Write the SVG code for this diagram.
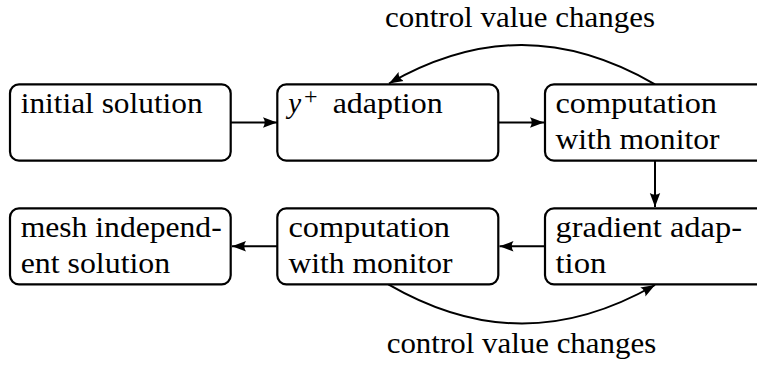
<svg xmlns="http://www.w3.org/2000/svg" width="757" height="365" viewBox="0 0 757 365">
<style>
.box{fill:#fff;stroke:#000;stroke-width:2.2}
.t{font-size:29px;fill:#000}
.c{fill:none;stroke:#000;stroke-width:2}
</style>
<defs>
<marker id="ah" markerUnits="userSpaceOnUse" markerWidth="15" markerHeight="12" refX="14" refY="6" orient="auto">
<path d="M0,0.8 Q3.5,6 0,11.2 L14,6 Z" fill="#000"/>
</marker>
</defs>
<rect width="757" height="365" fill="#fff"/>
<g font-family="'Liberation Serif', 'DejaVu Serif', serif">
<g id="connectors">
<path class="c" d="M231,122.5 H277" marker-end="url(#ah)"/>
<path class="c" d="M498.5,122.5 H544" marker-end="url(#ah)"/>
<path class="c" d="M655,160.7 V207" marker-end="url(#ah)"/>
<path class="c" d="M545,246.3 H499.5" marker-end="url(#ah)"/>
<path class="c" d="M277.3,246.3 H232" marker-end="url(#ah)"/>
<path class="c" d="M655,84.3 C564.6,32.1 478.7,32.1 389,83.5" marker-end="url(#ah)"/>
<path class="c" d="M388.3,284.3 C478.7,336.5 564.6,336.5 655,285" marker-end="url(#ah)"/>
<text class="t" x="385" y="26.7" textLength="270" lengthAdjust="spacingAndGlyphs">control value changes</text>
<text class="t" x="386.7" y="353.3" textLength="269.5" lengthAdjust="spacingAndGlyphs">control value changes</text>
</g>
<g id="n1">
<rect class="box" x="10" y="84.3" width="220.7" height="76.4" rx="9"/>
<text class="t" x="20.7" y="112.7" textLength="182" lengthAdjust="spacingAndGlyphs">initial solution</text>
</g>
<g id="n2">
<rect class="box" x="277.3" y="84.3" width="221" height="76.4" rx="9"/>
<text class="t" y="112.7"><tspan x="288.3" font-style="italic">y</tspan><tspan x="304" y="104" font-size="24">+</tspan><tspan x="332.7" y="112.7" textLength="110" lengthAdjust="spacingAndGlyphs">adaption</tspan></text>
</g>
<g id="n3">
<rect class="box" x="545" y="84.3" width="221" height="76.4" rx="9"/>
<text class="t" x="555.5" y="113" textLength="161.5" lengthAdjust="spacingAndGlyphs">computation</text>
<text class="t" x="555.5" y="149" textLength="164" lengthAdjust="spacingAndGlyphs">with monitor</text>
</g>
<g id="n4">
<rect class="box" x="10" y="208.3" width="220.7" height="76" rx="9"/>
<text class="t" x="20.7" y="237" textLength="201" lengthAdjust="spacingAndGlyphs">mesh independ-</text>
<text class="t" x="20.7" y="273" textLength="149.5" lengthAdjust="spacingAndGlyphs">ent solution</text>
</g>
<g id="n5">
<rect class="box" x="277.3" y="208.3" width="221" height="76" rx="9"/>
<text class="t" x="288.5" y="237" textLength="161.5" lengthAdjust="spacingAndGlyphs">computation</text>
<text class="t" x="288.5" y="273" textLength="164" lengthAdjust="spacingAndGlyphs">with monitor</text>
</g>
<g id="n6">
<rect class="box" x="545" y="208.3" width="221" height="76" rx="9"/>
<text class="t" x="555.5" y="237" textLength="186.5" lengthAdjust="spacingAndGlyphs">gradient adap-</text>
<text class="t" x="555.5" y="273" textLength="51" lengthAdjust="spacingAndGlyphs">tion</text>
</g>
</g>
</svg>
